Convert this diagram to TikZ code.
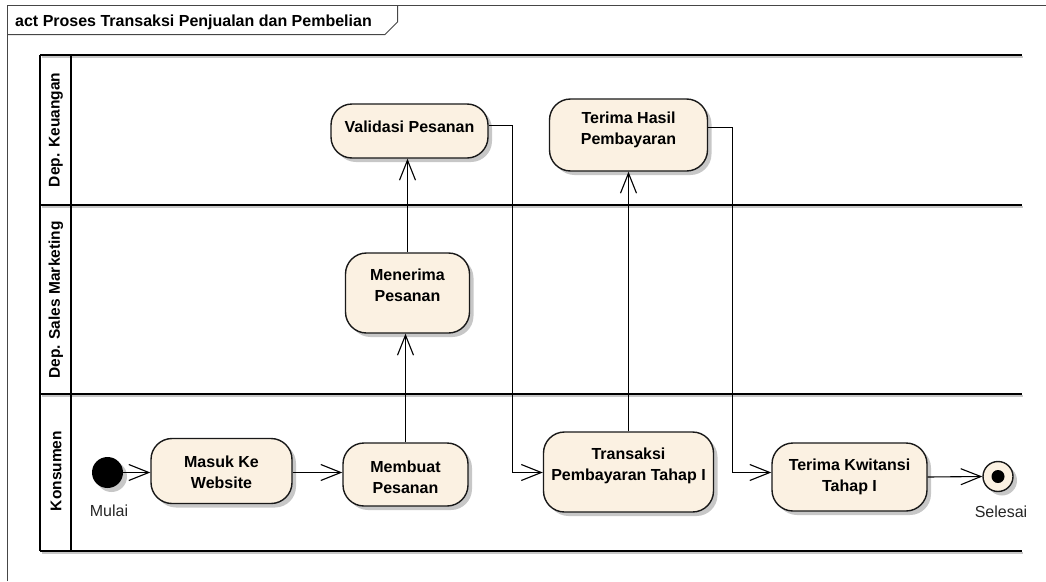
\documentclass[tikz,border=0pt]{standalone}
\usepackage{fontspec}
\setmainfont{Liberation Sans}
\usetikzlibrary{arrows.meta,shadows,calc}
\definecolor{actfill}{RGB}{251,241,226}
\definecolor{framecol}{RGB}{70,70,70}
\begin{document}
\begin{tikzpicture}[x=1pt,y=-1pt,
  shade0/.style={drop shadow={shadow xshift=4pt, shadow yshift=-4pt, fill=black!22, opacity=1}},
  act/.style={draw=black!90, line width=1.4pt, fill=actfill, rounded corners=21pt, inner sep=0pt, shade0},
  acttext/.style={align=center, font=\fontsize{16}{21}\selectfont\bfseries, inner sep=0pt, anchor=north},
  flow/.style={line width=1.1pt, -{Straight Barb[length=20pt,width=16pt,line width=1.1pt]}},
  lane/.style={line width=1.8pt, black},
  laneshadow/.style={line width=1.8pt, black!22},
  lanelbl/.style={rotate=90, font=\fontsize{15.5}{19}\selectfont\bfseries, inner sep=0pt},
  lbl/.style={font=\fontsize{16}{19}\selectfont, inner sep=0pt, text=black!85},
  ttl/.style={font=\fontsize{16}{19}\selectfont\bfseries, inner sep=0pt}
]
\useasboundingbox (0,0) rectangle (1046,581);
% frame
\draw[framecol, line width=1pt] (7.5,581) -- (7.5,5.5) -- (1046,5.5);
\draw[framecol, line width=1pt] (7.5,34.5) -- (385,34.5) -- (397.5,22) -- (397.5,5.5);
\node[ttl, anchor=base west] (title) at (15,26.5) {act Proses Transaksi Penjualan dan Pembelian};
% swimlanes
\foreach \y in {55,205,394,551} {
  \draw[laneshadow] (42,\y+2) -- (1023,\y+2);
  \draw[lane] (40,\y) -- (1022,\y);
}
\draw[line width=1.4pt] (40,55) -- (40,551);
\draw[line width=1.4pt] (71,55) -- (71,551);
\node[lanelbl] (lk) at (56,130) {Dep. Keuangan};
\node[lanelbl] (ls) at (56,300) {Dep. Sales Marketing};
\node[lanelbl] (lm) at (56,471) {Konsumen};
% activities
\node[act, minimum width=141pt, minimum height=65pt] (masuk) at (221.5,471) {};
\node[acttext] (masukT) at ([yshift=-17.5pt]masuk.north) {Masuk Ke\\Website};
\node[act, minimum width=125pt, minimum height=63pt] (membuat) at (405.5,474.5) {};
\node[acttext] (membuatT) at ([yshift=-18pt]membuat.north) {Membuat\\Pesanan};
\node[act, minimum width=124pt, minimum height=80pt] (menerima) at (407.5,293) {};
\node[acttext] (menerimaT) at ([yshift=-16.5pt]menerima.north) {Menerima\\Pesanan};
\node[act, minimum width=157pt, minimum height=54pt] (validasi) at (409.5,131) {};
\node[acttext] (validasiT) at ([yshift=-17pt]validasi.north) {Validasi Pesanan};
\node[act, minimum width=158pt, minimum height=72pt] (hasil) at (628.5,135) {};
\node[acttext] (hasilT) at ([yshift=-13.5pt]hasil.north) {Terima Hasil\\Pembayaran};
\node[act, minimum width=170pt, minimum height=80pt] (transaksi) at (628.5,472) {};
\node[acttext] (transaksiT) at ([yshift=-16pt]transaksi.north) {Transaksi\\Pembayaran Tahap I};
\node[act, minimum width=155pt, minimum height=68pt] (kwitansi) at (849.5,477) {};
\node[acttext] (kwitansiT) at ([yshift=-16pt]kwitansi.north) {Terima Kwitansi\\Tahap I};
% start / end
\node[circle, fill=black, minimum size=31pt, inner sep=0pt, shade0] (start) at (107.5,472.5) {};
\node[lbl] (mulai) at (109,511) {Mulai};
\node[circle, draw=black!90, line width=1.4pt, fill=actfill, minimum size=30pt, inner sep=0pt, shade0] (end) at (998,476.5) {};
\node[circle, fill=black, minimum size=13pt, inner sep=0pt] (enddot) at (end.center) {};
\node[lbl] (selesai) at (1001,512) {Selesai};
% flows
\draw[flow] (start) -- (masuk.west |- start);
\draw[flow] (masuk.east |- start) -- (membuat.west |- start);
\draw[flow] (membuat.north) -- (membuat.north |- menerima.south);
\draw[flow] (menerima.north) -- (menerima.north |- validasi.south);
\draw[flow] ([yshift=5.5pt]validasi.east) -- ++(23.5,0) |- ([yshift=-0.5pt]transaksi.west);
\draw[flow] (transaksi.north) -- (hasil.south);
\draw[flow] ([yshift=7.5pt]hasil.east) -- ++(24,0) |- ([yshift=4.5pt]kwitansi.west);
\draw[flow] (kwitansi.east) -- (end.west);
\end{tikzpicture}
\end{document}
